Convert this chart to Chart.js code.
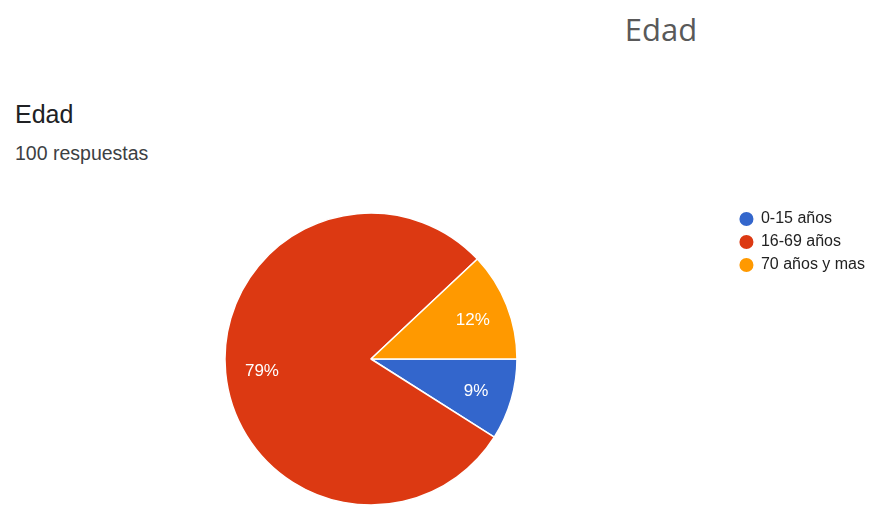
<!DOCTYPE html>
<html lang="es">
<head>
<meta charset="utf-8">
<title>Edad</title>
<script src="https://cdn.jsdelivr.net/npm/chart.js@4"></script>
<style>
  html, body { margin: 0; padding: 0; background: #fff; width: 895px; height: 505px; overflow: hidden; }
  .txt { position: absolute; white-space: nowrap; line-height: 1; }
  #heading { left: 0; width: 1322px; top: 8px; text-align: center; font: 31px "Open Sans", sans-serif; color: #595959; }
  #qtitle { left: 15px; top: 100px; font: 25px "Liberation Sans", Arial, sans-serif; color: #202124; }
  #qcount { left: 15px; top: 142px; font: 19.5px "Liberation Sans", Arial, sans-serif; color: #3c4043; }
  #wrap { position: absolute; left: 0; top: 0; width: 875px; height: 514px; }
</style>
</head>
<body>
<div class="txt" id="heading">Edad</div>
<div class="txt" id="qtitle">Edad</div>
<div class="txt" id="qcount">100 respuestas</div>
<div id="wrap"><canvas id="pie"></canvas></div>
<script>
// Age groups of the 100 answers
const categories = ['0-15 años', '16-69 años', '70 años y mas'];
const percentages = [9, 79, 12];
const sliceColors = ['#3366cc', '#dc3912', '#ff9900'];

// Writes each slice's percentage inside the slice
const sliceLabels = {
  id: 'sliceLabels',
  afterDatasetsDraw(chart) {
    const ctx = chart.ctx;
    const meta = chart.getDatasetMeta(0);
    ctx.save();
    ctx.fillStyle = '#ffffff';
    ctx.font = '17px "Liberation Sans", Arial, sans-serif';
    ctx.textAlign = 'center';
    ctx.textBaseline = 'middle';
    meta.data.forEach((arc, i) => {
      const p = arc.getProps(['x', 'y', 'startAngle', 'endAngle', 'outerRadius'], true);
      const mid = (p.startAngle + p.endAngle) / 2;
      const r = p.outerRadius * 0.75;
      ctx.fillText(percentages[i] + '%', p.x + Math.cos(mid) * r, p.y + Math.sin(mid) * r + 2);
    });
    ctx.restore();
  }
};

new Chart(document.getElementById('pie'), {
  type: 'pie',
  data: {
    labels: categories,
    datasets: [{
      data: percentages,
      backgroundColor: sliceColors,
      borderColor: '#ffffff',
      borderWidth: 1.5
    }]
  },
  options: {
    responsive: true,
    maintainAspectRatio: false,
    animation: false,
    rotation: 90,
    radius: 146,
    layout: { padding: { top: 204, left: 9, right: 0, bottom: 0 } },
    plugins: {
      tooltip: { enabled: false },
      legend: {
        position: 'right',
        align: 'start',
        labels: {
          usePointStyle: true,
          pointStyle: 'circle',
          boxWidth: 13,
          boxHeight: 11,
          padding: 7,
          color: '#222222',
          font: { family: '"Liberation Sans", Arial, sans-serif', size: 16 }
        }
      }
    }
  },
  plugins: [sliceLabels]
});
</script>
</body>
</html>
